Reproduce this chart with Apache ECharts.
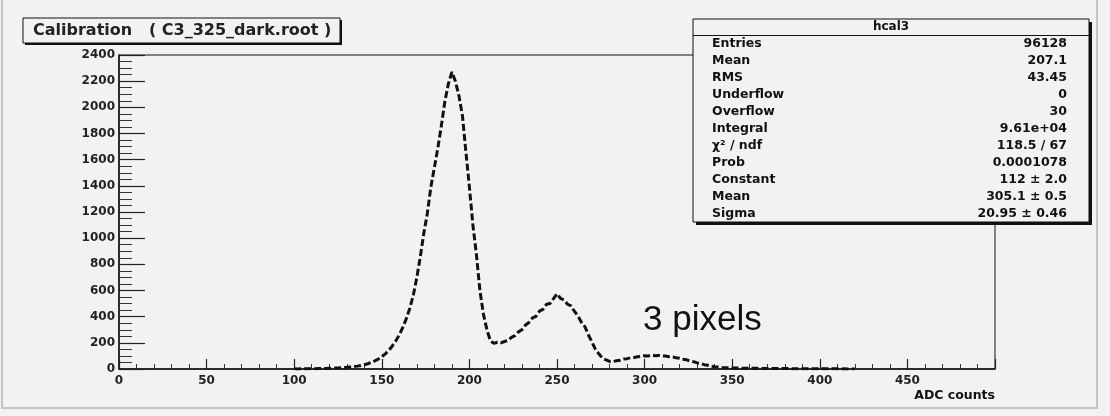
<!DOCTYPE html>
<html>
<head>
<meta charset="utf-8">
<title>Calibration (C3_325_dark.root)</title>
<script src="https://cdn.jsdelivr.net/npm/echarts@6/dist/echarts.min.js"></script>
<style>
  html, body { margin: 0; padding: 0; background: #f2f2f2; }
  #chart { width: 1110px; height: 416px; }
</style>
</head>
<body>
<div id="chart"></div>
<script>
// ADC bin centres (counts) and entries per bin for histogram hcal3
const adcBins = [
  100,102,104,106,108,110,112,114,116,118,120,122,124,126,128,130,132,134,136,138,
  140,142,144,146,148,150,152,154,156,158,160,162,164,166,168,170,172,174,176,178,
  180,182,184,186,188,190,192,194,196,198,200,202,204,206,208,210,212,214,216,218,
  220,222,224,226,228,230,232,234,236,238,240,242,244,246,248,250,252,254,256,258,
  260,262,264,266,268,270,272,274,276,278,280,282,284,286,288,290,292,294,296,298,
  300,302,304,306,308,310,312,314,316,318,320,322,324,326,328,330,332,334,336,338,
  340,342,344,346,348,350,352,354,356,358,360,362,364,366,368,370,372,374,376,378,
  380,382,384,386,388,390,392,394,396,398,400,402,404,406,408,410,412,414,416,418,420
];
const binCounts = [
  1,0,1,1,2,2,2,3,3,4,5,6,8,9,11,13,16,19,22,27,
  33,40,50,62,76,94,116,142,176,215,262,318,385,465,565,700,860,1040,1190,1390,
  1540,1690,1860,2045,2180,2270,2200,2090,1940,1660,1390,1100,875,600,420,300,215,196,204,200,
  210,218,242,255,284,300,336,356,390,402,442,455,495,500,538,575,540,528,495,482,
  440,405,356,322,258,206,148,114,82,70,58,57,63,66,76,79,86,88,94,96,
  101,100,106,102,104,100,99,94,92,86,83,75,70,61,56,47,42,33,29,22,
  18,15,12,10,9,8,7,7,6,6,5,5,5,4,4,4,4,3,3,3,
  3,3,2,2,2,2,2,2,1,2,1,1,1,1,1,1,0,1,0,1,0
];

// Axis tick values
const xTicks = [0, 50, 100, 150, 200, 250, 300, 350, 400, 450, 500];
const yTicks = [0, 200, 400, 600, 800, 1000, 1200, 1400, 1600, 1800, 2000, 2200, 2400];

// Statistics box rows
const statsTitle = 'hcal3';
const statsNames  = ['Entries', 'Mean', 'RMS', 'Underflow', 'Overflow', 'Integral',
                     'χ² / ndf', 'Prob', 'Constant', 'Mean', 'Sigma'];
const statsValues = ['96128', '207.1', '43.45', '0', '30', '9.61e+04',
                     '118.5 / 67', '0.0001078', '112 ± 2.0', '305.1 ± 0.5', '20.95 ± 0.46'];

const histTitle = 'Calibration   ( C3_325_dark.root )';
const xTitle = 'ADC counts';
const note = '3 pixels';

const ink = '#111';
const bg = '#f2f2f2';
const rootFont = '"DejaVu Sans", sans-serif';

const chart = echarts.init(document.getElementById('chart'), null, { renderer: 'canvas' });

const series = [{
  type: 'line',
  data: adcBins.map((x, i) => [x, binCounts[i]]),
  showSymbol: false,
  symbol: 'none',
  smooth: false,
  lineStyle: { color: ink, width: 3, type: [7, 3] },
  animation: false,
  z: 3
}];

// Stats box graphics
const boxX = 693, boxY = 19, boxW = 396, boxH = 203;
const rowY0 = 43.5, rowStep = 17;
const statsGraphics = [
  { type: 'rect', shape: { x: boxX + 3, y: boxY + 3, width: boxW, height: boxH }, style: { fill: ink } },
  { type: 'rect', shape: { x: boxX, y: boxY, width: boxW, height: boxH }, style: { fill: bg, stroke: ink, lineWidth: 1 } },
  { type: 'line', shape: { x1: boxX, y1: 35.5, x2: boxX + boxW, y2: 35.5 }, style: { stroke: ink, lineWidth: 1 } },
  { type: 'text', x: boxX + boxW / 2, y: 27, style: { text: statsTitle, font: 'bold 12px ' + rootFont, fill: ink, align: 'center', verticalAlign: 'middle' } }
];
statsNames.forEach((name, i) => {
  statsGraphics.push({ type: 'text', x: 712, y: rowY0 + i * rowStep,
    style: { text: name, font: 'bold 12.5px ' + rootFont, fill: ink, align: 'left', verticalAlign: 'middle' } });
  statsGraphics.push({ type: 'text', x: 1067, y: rowY0 + i * rowStep,
    style: { text: statsValues[i], font: 'bold 12.5px ' + rootFont, fill: ink, align: 'right', verticalAlign: 'middle' } });
});

const option = {
  backgroundColor: bg,
  animation: false,
  grid: {
    left: 119, right: 115, top: 55, bottom: 47,
    show: true, backgroundColor: bg, borderColor: ink, borderWidth: 1
  },
  xAxis: {
    type: 'value',
    min: xTicks[0], max: xTicks[xTicks.length - 1], interval: 50,
    name: xTitle,
    nameLocation: 'end',
    nameGap: 0,
    nameTextStyle: { fontFamily: rootFont, fontWeight: 'bold', fontSize: 12.5, color: ink,
                     align: 'right', verticalAlign: 'top', padding: [20, 0, 0, 0] },
    axisLine: { show: true, onZero: false, lineStyle: { color: ink, width: 1.5 } },
    axisTick: { show: true, inside: true, length: 10, lineStyle: { color: '#222', width: 1.2 } },
    minorTick: { show: true, splitNumber: 5, length: 5, lineStyle: { color: '#333', width: 1 } },
    splitLine: { show: false },
    axisLabel: {
      fontFamily: rootFont, fontWeight: 'bold', fontSize: 12, color: '#222', margin: 6,
      formatter: v => (v === 500 ? '' : String(v))
    }
  },
  yAxis: {
    type: 'value',
    min: yTicks[0], max: yTicks[yTicks.length - 1], interval: 200,
    axisLine: { show: true, onZero: false, lineStyle: { color: ink, width: 1.5 } },
    axisTick: { show: true, inside: true, length: 26, lineStyle: { color: '#222', width: 1.2 } },
    minorTick: { show: true, splitNumber: 4, length: 13, lineStyle: { color: '#333', width: 1 } },
    splitLine: { show: false },
    axisLabel: { fontFamily: rootFont, fontWeight: 'bold', fontSize: 12, color: '#222', margin: 4,
                 formatter: v => String(v) }
  },
  series: series,
  graphic: [
    // canvas bevel
    { type: 'rect', z: 1, silent: true, shape: { x: 2, y: -4, width: 1095, height: 412 },
      style: { fill: 'none', stroke: '#c4c4c4', lineWidth: 2 } },
    // histogram title box
    { type: 'group', z: 100, children: [
      { type: 'rect', shape: { x: 25, y: 20, width: 317, height: 25 }, style: { fill: ink } },
      { type: 'rect', shape: { x: 23, y: 18, width: 317, height: 25 }, style: { fill: bg, stroke: ink, lineWidth: 1 } },
      { type: 'text', x: 33, y: 30.5, style: { text: histTitle, font: 'bold 16px ' + rootFont, fill: '#222', align: 'left', verticalAlign: 'middle' } }
    ]},
    { type: 'group', z: 100, children: statsGraphics },
    // annotation
    { type: 'text', z: 100, x: 643, y: 320,
      style: { text: note, font: '35px "Liberation Sans", Arial, sans-serif', fill: ink, align: 'left', verticalAlign: 'middle' } }
  ]
};

chart.setOption(option);
</script>
</body>
</html>
